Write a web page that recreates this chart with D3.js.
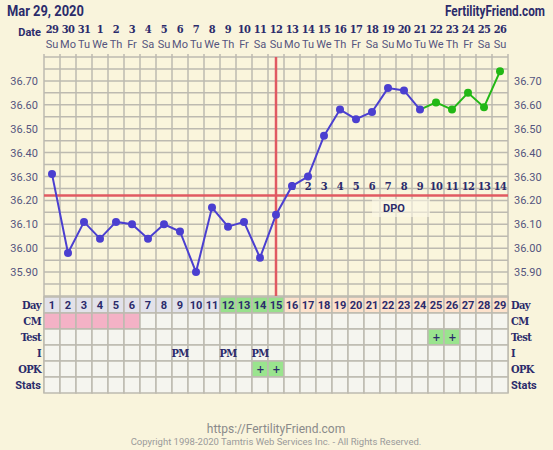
<!DOCTYPE html>
<html><head><meta charset="utf-8">
<script src="https://cdn.jsdelivr.net/npm/d3@7"></script>
<style>
html,body{margin:0;padding:0;background:#f9f4dc;}
svg{display:block;}
.slab{font-family:"DejaVu Serif Condensed","DejaVu Serif",serif;font-weight:bold;letter-spacing:-0.6px;}
.sans{font-family:Roboto,"Noto Sans",sans-serif;}
</style></head>
<body>
<svg id="c" width="553" height="450"></svg>
<script>
// ---- data ----
const cycleDays = d3.range(1, 30);
const dateLabels = ["29","30","31","1","2","3","4","5","6","7","8","9","10","11","12","13","14","15","16","17","18","19","20","21","22","23","24","25","26"];
const weekdays = ["Su","Mo","Tu","We","Th","Fr","Sa","Su","Mo","Tu","We","Th","Fr","Sa","Su","Mo","Tu","We","Th","Fr","Sa","Su","Mo","Tu","We","Th","Fr","Sa","Su"];
const temps = [36.31,35.98,36.11,36.04,36.11,36.10,36.04,36.10,36.07,35.90,36.17,36.09,36.11,35.96,36.14,36.26,36.30,36.47,36.58,36.54,36.57,36.67,36.66,36.58,36.61,36.58,36.65,36.59,36.74];
const pregnancyStartDay = 24; // green segment from this day
const coverline = 36.22;
const ovulationDay = 15;
const tempTicks = [35.90,36.00,36.10,36.20,36.30,36.40,36.50,36.60,36.70];
const dpoDays = d3.range(16, 30);
const cmDays = [1,2,3,4,5,6];
const testPlusDays = [25,26];
const intercoursePM = [9,12,14];
const opkPlusDays = [14,15];
const fertileDays = [12,13,14,15];
const rowLabels = ["Day","CM","Test","I","OPK","Stats"];

// ---- layout ----
const svg = d3.select("#c");
const L = 44, R = 508, T = 57, B = 296;
const x = d3.scaleBand().domain(cycleDays).range([L, R]);
const y = d3.scaleLinear().domain([35.8, 36.8]).range([B, T]);
const cx = d => x(d) + x.bandwidth() / 2;
const navy = "#2b2b6b";

// header
svg.append("g").attr("transform","translate(7,16) scale(0.86,1)")
  .append("text").attr("class","sans")
  .attr("font-size",15).attr("font-weight","bold").attr("fill",navy).text("Mar 29, 2020");
svg.append("g").attr("transform","translate(545,16) scale(0.84,1)")
  .append("text").attr("class","sans").attr("text-anchor","end")
  .attr("font-size",14).attr("font-weight","bold").attr("fill",navy).text("FertilityFriend.com");
svg.append("text").attr("class","sans").attr("x",41).attr("y",36).attr("text-anchor","end")
  .attr("font-size",11).attr("font-weight","bold").attr("fill",navy).text("Date");
svg.append("g").selectAll("text").data(cycleDays).join("text").attr("class","slab")
  .attr("x",d=>cx(d)).attr("y",33).attr("text-anchor","middle").attr("font-size",11)
  .attr("fill",navy).text((d,i)=>dateLabels[i]);
svg.append("g").selectAll("text").data(cycleDays).join("text").attr("class","sans")
  .attr("x",d=>cx(d)).attr("y",48).attr("text-anchor","middle").attr("font-size",11)
  .attr("fill","#55557e").text((d,i)=>weekdays[i]);

// plot background
svg.append("rect").attr("x",L).attr("y",T).attr("width",R-L).attr("height",B-T).attr("fill","#faf5dc");

// grid
const gridColor = "#bdbab0";
const hLines = d3.range(0,21).map(i => 35.8 + i*0.05);
svg.append("g").selectAll("line").data(hLines).join("line")
  .attr("x1",L).attr("x2",R).attr("y1",d=>y(d)).attr("y2",d=>y(d))
  .attr("stroke",gridColor).attr("stroke-width",1.5);
const vBounds = d3.range(0,30).map(i => L + i*x.bandwidth());
svg.append("g").selectAll("line").data(vBounds).join("line")
  .attr("x1",d=>d).attr("x2",d=>d).attr("y1",T-3).attr("y2",393)
  .attr("stroke",gridColor).attr("stroke-width",1.5);

// axes
const fmt = d3.format(".2f");
const la = svg.append("g").attr("transform",`translate(${L-3},0)`)
  .call(d3.axisLeft(y).tickValues(tempTicks).tickFormat(fmt).tickSize(0));
const ra = svg.append("g").attr("transform",`translate(${R+3},0)`)
  .call(d3.axisRight(y).tickValues(tempTicks).tickFormat(fmt).tickSize(0));
[la,ra].forEach(g=>{
  g.select(".domain").remove();
  g.selectAll("text").attr("font-family","Roboto,sans-serif").attr("font-size",11).attr("fill","#55557e");
});

// DPO label box
svg.append("rect").attr("x",372).attr("y",199).attr("width",58).attr("height",18).attr("fill","#fbf8e6").attr("opacity",0.6);
svg.append("text").attr("class","sans").attr("x",394).attr("y",212).attr("text-anchor","middle")
  .attr("font-size",11).attr("font-weight","bold").attr("fill",navy).text("DPO");

// coverline & ovulation line
svg.append("line").attr("x1",L).attr("x2",R).attr("y1",y(coverline)).attr("y2",y(coverline))
  .attr("stroke","#e05a62").attr("stroke-width",2.5);
svg.append("line").attr("x1",cx(ovulationDay)).attr("x2",cx(ovulationDay)).attr("y1",T).attr("y2",B)
  .attr("stroke","#e05a62").attr("stroke-width",2.5);

// DPO numbers
svg.append("g").selectAll("text").data(dpoDays).join("text").attr("class","slab")
  .attr("x",d=>cx(d)).attr("y",190).attr("text-anchor","middle").attr("font-size",11)
  .attr("fill",navy).text((d,i)=>i+1);

// temperature line
const pts = cycleDays.map((d,i)=>({d, t:temps[i]}));
const line = d3.line().x(p=>cx(p.d)).y(p=>y(p.t));
const blue = "#4b3fd0", green = "#22b816";
svg.append("path").datum(pts.filter(p=>p.d<=pregnancyStartDay)).attr("d",line)
  .attr("fill","none").attr("stroke",blue).attr("stroke-width",2);
svg.append("path").datum(pts.filter(p=>p.d>=pregnancyStartDay)).attr("d",line)
  .attr("fill","none").attr("stroke",green).attr("stroke-width",2);
svg.append("g").selectAll("circle").data(pts).join("circle")
  .attr("cx",p=>cx(p.d)).attr("cy",p=>y(p.t)).attr("r",4)
  .attr("fill",p=>p.d>pregnancyStartDay?green:blue);

// table
const rowTop = 297, rowH = 16;
const tbl = svg.append("g");
rowLabels.forEach((lab,r)=>{
  tbl.append("g").selectAll("rect").data(cycleDays).join("rect")
    .attr("x",d=>x(d)).attr("y",rowTop+r*rowH).attr("width",x.bandwidth()).attr("height",rowH)
    .attr("fill",d=>{
      if(r===0) return fertileDays.includes(d)?"#98e08c":(d>15?"#fde2cc":"#e2e2ea");
      if(r===1 && cmDays.includes(d)) return "#f4b2c6";
      if(r===2 && testPlusDays.includes(d)) return "#9ae48e";
      if(r===4 && opkPlusDays.includes(d)) return "#9ae48e";
      return "#f5f5ef";
    })
    .attr("stroke",gridColor).attr("stroke-width",1.5);
  tbl.append("text").attr("class", lab==="Stats"?"sans":"slab").attr("x",41).attr("y",rowTop+r*rowH+12)
    .attr("text-anchor","end").attr("font-size",11).attr("fill",navy)
    .attr("font-weight","bold").text(lab);
  tbl.append("text").attr("class", lab==="Stats"?"sans":"slab").attr("x",511).attr("y",rowTop+r*rowH+12)
    .attr("font-size",11).attr("fill",navy).attr("font-weight","bold").text(lab);
});
tbl.append("g").selectAll("text").data(cycleDays).join("text").attr("class","sans")
  .attr("x",d=>cx(d)).attr("y",rowTop+12).attr("text-anchor","middle")
  .attr("font-size",11).attr("font-weight","bold").attr("fill",navy).text(d=>d);
tbl.append("g").selectAll("text").data(testPlusDays).join("text").attr("class","slab")
  .attr("x",d=>cx(d)).attr("y",rowTop+2*rowH+12).attr("text-anchor","middle")
  .attr("font-size",11).attr("fill",navy).text("+");
tbl.append("g").selectAll("text").data(opkPlusDays).join("text").attr("class","slab")
  .attr("x",d=>cx(d)).attr("y",rowTop+4*rowH+12).attr("text-anchor","middle")
  .attr("font-size",11).attr("fill",navy).text("+");
tbl.append("g").selectAll("text").data(intercoursePM).join("text").attr("class","slab")
  .attr("x",d=>cx(d)).attr("y",rowTop+3*rowH+12).attr("text-anchor","middle")
  .attr("font-size",11).attr("fill",navy).text("PM");

// footer
svg.append("text").attr("class","sans").attr("x",276).attr("y",433).attr("text-anchor","middle")
  .attr("font-size",12).attr("fill","#8a8a8a").text("https://FertilityFriend.com");
svg.append("text").attr("class","sans").attr("x",276).attr("y",445).attr("text-anchor","middle")
  .attr("font-size",9.5).attr("fill","#9a9a9a").text("Copyright 1998-2020 Tamtris Web Services Inc. - All Rights Reserved.");
</script>
</body></html>
